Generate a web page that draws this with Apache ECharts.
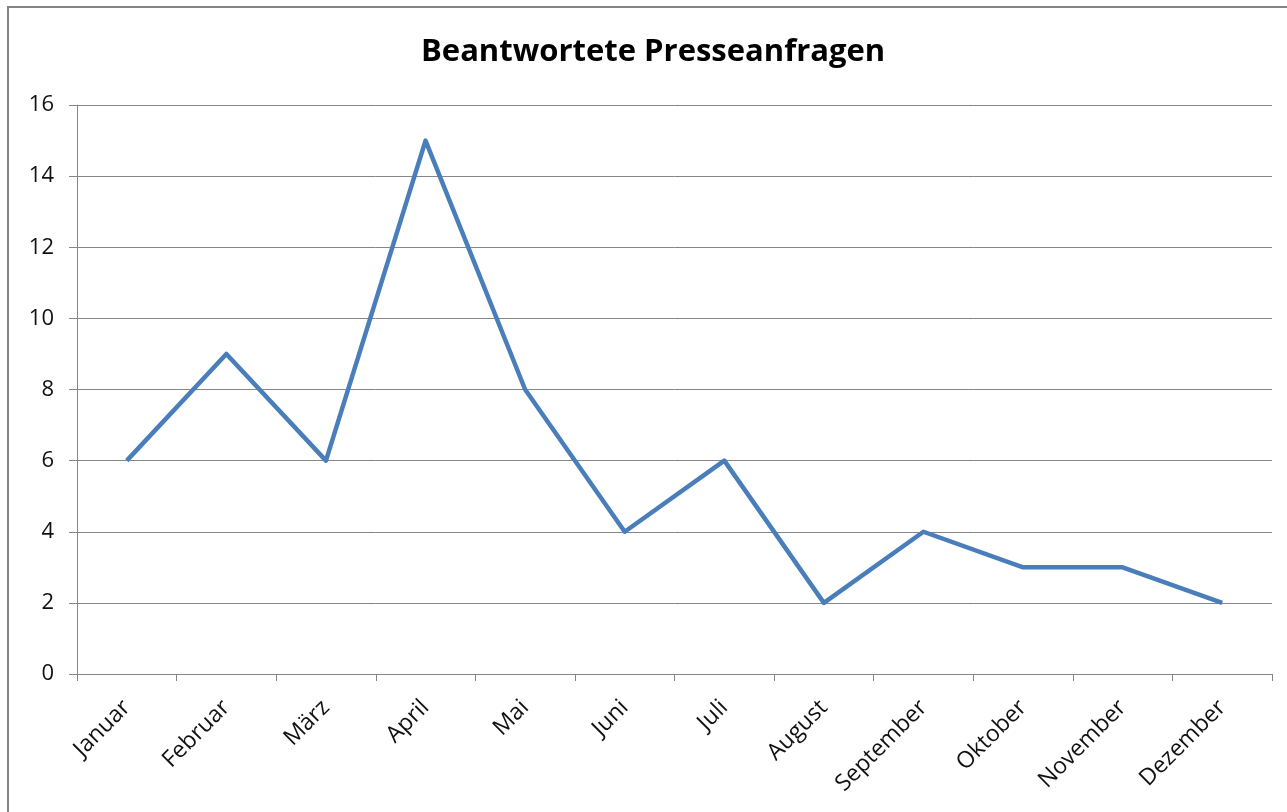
<!DOCTYPE html>
<html>
<head>
<meta charset="utf-8">
<script src="https://cdn.jsdelivr.net/npm/echarts@6/dist/echarts.min.js"></script>
<style>
  html, body { margin: 0; padding: 0; background: #fff; }
  #chart { width: 1287px; height: 812px; }
</style>
</head>
<body>
<div id="chart"></div>
<script>
// Monate und beantwortete Anfragen
var months = ['Januar', 'Februar', 'März', 'April', 'Mai', 'Juni', 'Juli', 'August', 'September', 'Oktober', 'November', 'Dezember']
var answered = [6, 9, 6, 15, 8, 4, 6, 2, 4, 3, 3, 2]
var yTicks = [0, 2, 4, 6, 8, 10, 12, 14, 16]

var myChart = echarts.init(document.getElementById('chart'))
var fontFam = '"Open Sans", "DejaVu Sans", sans-serif'

var option = {
  backgroundColor: '#fff',
  animation: false,
  // Rahmen um das ganze Diagramm
  graphic: [{
    type: 'rect',
    shape: { x: 8, y: 7, width: 1400, height: 900 },
    style: { fill: 'none', stroke: '#858585', lineWidth: 2 },
    silent: true
  }],
  title: {
    text: 'Beantwortete Presseanfragen',
    left: 416,
    top: 32,
    textStyle: { fontFamily: fontFam, fontWeight: 'bold', fontSize: 31, color: '#000' }
  },
  grid: { left: 77, right: 15, top: 105, bottom: 138, containLabel: false },
  xAxis: {
    type: 'category',
    data: months,
    boundaryGap: true,
    axisLine: { lineStyle: { color: '#868686', width: 1 } },
    axisTick: { show: true, length: 7, alignWithLabel: false, lineStyle: { color: '#868686' } },
    axisLabel: {
      rotate: 45,
      margin: 30,
      fontFamily: fontFam,
      fontSize: 23,
      color: '#111'
    }
  },
  yAxis: {
    type: 'value',
    min: yTicks[0],
    max: yTicks[yTicks.length - 1],
    interval: 2,
    axisLine: { show: true, lineStyle: { color: '#868686', width: 1 } },
    axisTick: { show: true, length: 8, lineStyle: { color: '#868686' } },
    axisLabel: { margin: 23, fontFamily: fontFam, fontSize: 22, color: '#111' },
    splitLine: { show: true, lineStyle: { color: '#868686', width: 1 } }
  },
  series: [{
    name: 'Presseanfragen',
    type: 'line',
    data: answered,
    showSymbol: false,
    symbol: 'none',
    lineStyle: { color: '#4a7ebb', width: 4.5, join: 'round' },
    itemStyle: { color: '#4a7ebb' }
  }]
}
myChart.setOption(option, true)
</script>
</body>
</html>
